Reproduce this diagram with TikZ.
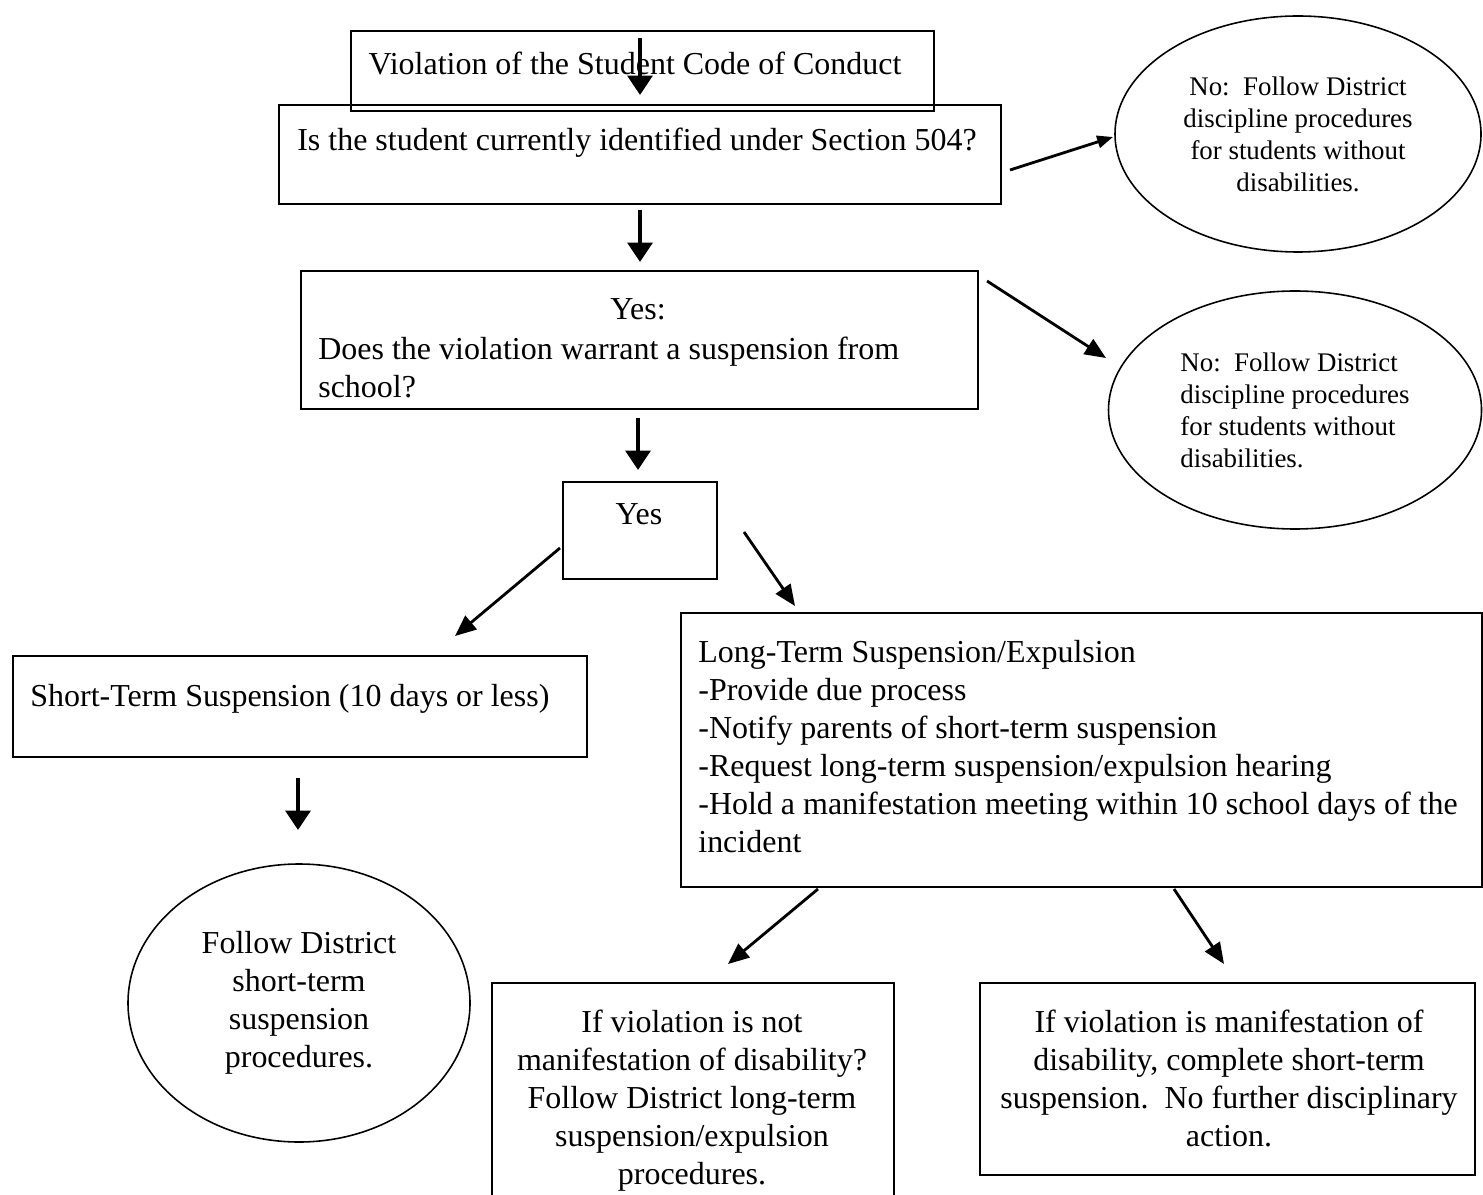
\documentclass[tikz,border=0pt]{standalone}
\usepackage{fontspec}
\setmainfont{Liberation Serif}
\usetikzlibrary{arrows.meta,shapes.geometric}
\begin{document}
\begin{tikzpicture}[x=0.02cm,y=-0.02cm,
  box/.style={draw,line width=0.9pt,inner sep=0pt,anchor=north west},
  oval/.style={draw,ellipse,line width=0.9pt,inner sep=0pt},
  big/.style={font=\fontsize{18.2}{21.6}\selectfont,inner sep=0pt},
  small/.style={font=\fontsize{15.3}{18.2}\selectfont},
  varrow/.style={line width=2.4pt,-{Triangle[width=14pt,length=11pt]}},
  darrow/.style={line width=1.6pt,-{Triangle[width=10pt,length=12pt]}},
  tarrow/.style={line width=1.6pt,-{Triangle[width=7pt,length=9pt]}}]
\useasboundingbox (0,0) rectangle (1483,1195);
% boxes
\node[box,minimum width=583*0.02cm,minimum height=80*0.02cm] (b1) at (350,30) {};
\node[box,minimum width=722*0.02cm,minimum height=99*0.02cm] (b2) at (278,104) {};
\node[box,minimum width=677*0.02cm,minimum height=138*0.02cm] (b3) at (300,270) {};
\node[box,minimum width=154*0.02cm,minimum height=97*0.02cm] (byes) at (562,481) {};
\node[box,minimum width=574*0.02cm,minimum height=101*0.02cm] (bshort) at (12,655) {};
\node[box,minimum width=801*0.02cm,minimum height=274*0.02cm] (blong) at (680,612) {};
\node[box,minimum width=402*0.02cm,minimum height=230*0.02cm] (bl) at (491,982) {};
\node[box,minimum width=495*0.02cm,minimum height=192*0.02cm] (br) at (979,982) {};
% ellipses
\node[oval,small,align=center,minimum width=366*0.02cm,minimum height=236*0.02cm] (e1) at (1298,134)
  {No:\ \ Follow District\\discipline procedures\\for students without\\disabilities.};
\node[oval,small,align=left,minimum width=373*0.02cm,minimum height=238*0.02cm] (e2) at (1295,410)
  {No:\ \ Follow District\\discipline procedures\\for students without\\disabilities.};
\node[oval,big,align=center,minimum width=342*0.02cm,minimum height=278*0.02cm] (e3) at (299,1003)
  {Follow District\\short-term\\suspension\\procedures.};
% texts
\node[big,anchor=north] (t1) at (635,52) {Violation of the Student Code of Conduct};
\node[big,anchor=north] (t2) at (637,128) {Is the student currently identified under Section 504?};
\node[big,anchor=north] (t3a) at (638,298) {Yes:};
\node[big,anchor=north west,align=left] (t3) at (318,337)
  {Does the violation warrant a suspension from\\school?};
\node[big,anchor=north] (tyes) at (639,503) {Yes};
\node[big,anchor=north west] (tshort) at (30,684) {Short-Term Suspension (10 days or less)};
\node[big,anchor=north west,align=left] (tlong) at (698,640)
  {Long-Term Suspension/Expulsion\\-Provide due process\\-Notify parents of short-term suspension\\-Request long-term suspension/expulsion hearing\\-Hold a manifestation meeting within 10 school days of the\\incident};
\node[big,anchor=north,align=center] (tbl) at (692,1010)
  {If violation is not\\manifestation of disability?\\Follow District long-term\\suspension/expulsion\\procedures.};
\node[big,anchor=north,align=center] (tbr) at (1229,1010)
  {If violation is manifestation of\\disability, complete short-term\\suspension.\ \ No further disciplinary\\action.};
% arrow end points
\coordinate (a1s) at (640,38);  \coordinate (a1e) at (640,95);
\coordinate (a2s) at (1010,170); \coordinate (a2e) at (1113,137);
\coordinate (a3s) at (640,210); \coordinate (a3e) at (640,262);
\coordinate (a4s) at (987,281); \coordinate (a4e) at (1106,358);
\coordinate (a5s) at (638,418); \coordinate (a5e) at (638,470);
\coordinate (a6s) at (560,548); \coordinate (a6e) at (455,636);
\coordinate (a7s) at (744,532); \coordinate (a7e) at (795,606);
\coordinate (a8s) at (298,778); \coordinate (a8e) at (298,830);
\coordinate (a9s) at (818,889); \coordinate (a9e) at (728,964);
\coordinate (a10s) at (1174,889); \coordinate (a10e) at (1224,964);
\draw[varrow] (a1s) -- (a1e);
\draw[tarrow] (a2s) -- (a2e);
\draw[varrow] (a3s) -- (a3e);
\draw[darrow] (a4s) -- (a4e);
\draw[varrow] (a5s) -- (a5e);
\draw[darrow] (a6s) -- (a6e);
\draw[darrow] (a7s) -- (a7e);
\draw[varrow] (a8s) -- (a8e);
\draw[darrow] (a9s) -- (a9e);
\draw[darrow] (a10s) -- (a10e);
\end{tikzpicture}
\end{document}
